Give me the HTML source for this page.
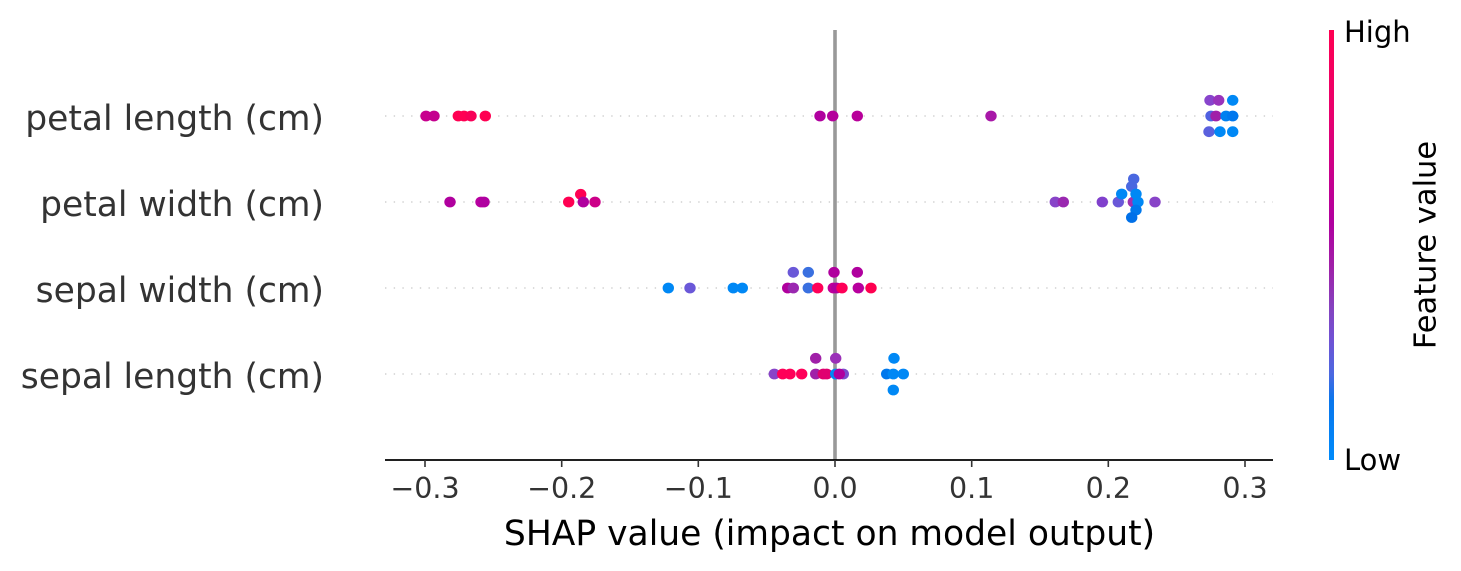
<!DOCTYPE html>
<html>
<head>
<meta charset="utf-8">
<style>
html,body{margin:0;padding:0;background:#fff;}
svg{display:block;}
text{font-family:"DejaVu Sans","Liberation Sans",sans-serif;}
</style>
</head>
<body>
<svg width="1461" height="571" viewBox="0 0 1461 571" xmlns="http://www.w3.org/2000/svg">
<defs>
<linearGradient id="cb" x1="0" y1="0" x2="0" y2="1">
<stop offset="0" stop-color="#ff0052"/>
<stop offset="0.2" stop-color="#e8006e"/>
<stop offset="0.35" stop-color="#c4008f"/>
<stop offset="0.45" stop-color="#b0009f"/>
<stop offset="0.55" stop-color="#a020a8"/>
<stop offset="0.65" stop-color="#8444c0"/>
<stop offset="0.72" stop-color="#7052d4"/>
<stop offset="0.8" stop-color="#4c68e0"/>
<stop offset="0.86" stop-color="#0a76ec"/>
<stop offset="1" stop-color="#008bfb"/>
</linearGradient>
</defs>
<rect width="1461" height="571" fill="#fff"/>

<g stroke="#c8c8c8" stroke-width="1.2" stroke-dasharray="1.4 7.3">
<line x1="385" y1="116" x2="1273" y2="116"/>
<line x1="385" y1="202" x2="1273" y2="202"/>
<line x1="385" y1="288" x2="1273" y2="288"/>
<line x1="385" y1="374" x2="1273" y2="374"/>
</g>

<rect x="833.2" y="30" width="3.6" height="430" fill="#999999"/>

<g>
<ellipse cx="426" cy="116" rx="5.7" ry="5.4" fill="#c8008e"/>
<ellipse cx="434" cy="116" rx="5.7" ry="5.4" fill="#c4008f"/>
<ellipse cx="458.3" cy="116" rx="5.7" ry="5.4" fill="#ff0052"/>
<ellipse cx="464" cy="116" rx="5.7" ry="5.4" fill="#ff0054"/>
<ellipse cx="471" cy="116" rx="5.7" ry="5.4" fill="#f80058"/>
<ellipse cx="485.3" cy="116" rx="5.7" ry="5.4" fill="#ff0052"/>
<ellipse cx="820" cy="116" rx="5.7" ry="5.4" fill="#b0009f"/>
<ellipse cx="832.7" cy="116" rx="5.7" ry="5.4" fill="#b4009c"/>
<ellipse cx="857.3" cy="116" rx="5.7" ry="5.4" fill="#b8009a"/>
<ellipse cx="991" cy="116" rx="5.7" ry="5.4" fill="#a818a8"/>
<ellipse cx="1210" cy="100.3" rx="5.7" ry="5.4" fill="#8844cc"/>
<ellipse cx="1218.7" cy="100.3" rx="5.7" ry="5.4" fill="#9933bb"/>
<ellipse cx="1232.7" cy="100.3" rx="5.7" ry="5.4" fill="#0088f5"/>
<ellipse cx="1211" cy="116" rx="5.7" ry="5.4" fill="#5060e0"/>
<ellipse cx="1216" cy="116" rx="5.7" ry="5.4" fill="#a020a8"/>
<ellipse cx="1226" cy="116" rx="5.7" ry="5.4" fill="#0080f0"/>
<ellipse cx="1232.7" cy="116" rx="5.7" ry="5.4" fill="#0078ee"/>
<ellipse cx="1209" cy="131.7" rx="5.7" ry="5.4" fill="#5a60dd"/>
<ellipse cx="1220" cy="131.7" rx="5.7" ry="5.4" fill="#0088f5"/>
<ellipse cx="1232.7" cy="131.7" rx="5.7" ry="5.4" fill="#0088f5"/>

<ellipse cx="450" cy="202" rx="5.7" ry="5.4" fill="#b0009e"/>
<ellipse cx="481" cy="202" rx="5.7" ry="5.4" fill="#b800a0"/>
<ellipse cx="484" cy="202" rx="5.7" ry="5.4" fill="#b000a0"/>
<ellipse cx="568.7" cy="202" rx="5.7" ry="5.4" fill="#ff0052"/>
<ellipse cx="580.7" cy="194.3" rx="5.7" ry="5.4" fill="#ff0052"/>
<ellipse cx="583.3" cy="202" rx="5.7" ry="5.4" fill="#b0009e"/>
<ellipse cx="595" cy="202" rx="5.7" ry="5.4" fill="#cc0088"/>
<ellipse cx="1055.3" cy="202" rx="5.7" ry="5.4" fill="#8844c8"/>
<ellipse cx="1063.3" cy="202" rx="5.7" ry="5.4" fill="#9a28b0"/>
<ellipse cx="1102.3" cy="202" rx="5.7" ry="5.4" fill="#8040cc"/>
<ellipse cx="1118.3" cy="202" rx="5.7" ry="5.4" fill="#6a58d8"/>
<ellipse cx="1133.3" cy="202" rx="5.7" ry="5.4" fill="#a030b0"/>
<ellipse cx="1133.7" cy="179" rx="5.7" ry="5.4" fill="#4a68e0"/>
<ellipse cx="1131.7" cy="186.5" rx="5.7" ry="5.4" fill="#4a68e0"/>
<ellipse cx="1121.7" cy="194" rx="5.7" ry="5.4" fill="#0088f5"/>
<ellipse cx="1136" cy="194" rx="5.7" ry="5.4" fill="#0088f5"/>
<ellipse cx="1138" cy="202" rx="5.7" ry="5.4" fill="#0088f5"/>
<ellipse cx="1136" cy="210" rx="5.7" ry="5.4" fill="#0078ec"/>
<ellipse cx="1131.7" cy="217.5" rx="5.7" ry="5.4" fill="#0070e8"/>
<ellipse cx="1155" cy="202" rx="5.7" ry="5.4" fill="#8844c8"/>

<ellipse cx="668.3" cy="288" rx="5.7" ry="5.4" fill="#0088f5"/>
<ellipse cx="690" cy="288" rx="5.7" ry="5.4" fill="#6a58d8"/>
<ellipse cx="733.3" cy="288" rx="5.7" ry="5.4" fill="#0088f5"/>
<ellipse cx="742.3" cy="288" rx="5.7" ry="5.4" fill="#0088f5"/>
<ellipse cx="787.7" cy="288" rx="5.7" ry="5.4" fill="#b0009e"/>
<ellipse cx="793.3" cy="288" rx="5.7" ry="5.4" fill="#9a28b0"/>
<ellipse cx="808.3" cy="288" rx="5.7" ry="5.4" fill="#3a70e0"/>
<ellipse cx="817.7" cy="288" rx="5.7" ry="5.4" fill="#ff0058"/>
<ellipse cx="833.3" cy="288" rx="5.7" ry="5.4" fill="#c0009a"/>
<ellipse cx="836.7" cy="288" rx="5.7" ry="5.4" fill="#b0009e"/>
<ellipse cx="842" cy="288" rx="5.7" ry="5.4" fill="#ff0058"/>
<ellipse cx="858.3" cy="288" rx="5.7" ry="5.4" fill="#b8009e"/>
<ellipse cx="871" cy="288" rx="5.7" ry="5.4" fill="#ff0050"/>
<ellipse cx="793.3" cy="272.3" rx="5.7" ry="5.4" fill="#6a58d8"/>
<ellipse cx="808.3" cy="272.3" rx="5.7" ry="5.4" fill="#3a70e0"/>
<ellipse cx="834" cy="272.3" rx="5.7" ry="5.4" fill="#b0009e"/>
<ellipse cx="857.3" cy="272.3" rx="5.7" ry="5.4" fill="#b0009e"/>

<ellipse cx="774.3" cy="374" rx="5.7" ry="5.4" fill="#8844c8"/>
<ellipse cx="782.7" cy="374" rx="5.7" ry="5.4" fill="#ff0058"/>
<ellipse cx="790" cy="374" rx="5.7" ry="5.4" fill="#ff0058"/>
<ellipse cx="801.7" cy="374" rx="5.7" ry="5.4" fill="#ff0058"/>
<ellipse cx="815.7" cy="374" rx="5.7" ry="5.4" fill="#a020a8"/>
<ellipse cx="823.3" cy="374" rx="5.7" ry="5.4" fill="#e0006e"/>
<ellipse cx="826.7" cy="374" rx="5.7" ry="5.4" fill="#e00070"/>
<ellipse cx="843.3" cy="374" rx="5.7" ry="5.4" fill="#7a4ccc"/>
<ellipse cx="835.7" cy="374" rx="5.7" ry="5.4" fill="#0088f5"/>
<ellipse cx="839.3" cy="374" rx="5.7" ry="5.4" fill="#b0009e"/>
<ellipse cx="886.7" cy="374" rx="5.7" ry="5.4" fill="#0078ec"/>
<ellipse cx="893.3" cy="374" rx="5.7" ry="5.4" fill="#0088f5"/>
<ellipse cx="903.3" cy="374" rx="5.7" ry="5.4" fill="#0088f5"/>
<ellipse cx="815.7" cy="358.3" rx="5.7" ry="5.4" fill="#a020a8"/>
<ellipse cx="835.7" cy="358.3" rx="5.7" ry="5.4" fill="#9a30b8"/>
<ellipse cx="894" cy="358.3" rx="5.7" ry="5.4" fill="#0088f5"/>
<ellipse cx="893.3" cy="390" rx="5.7" ry="5.4" fill="#0088f5"/>
</g>

<line x1="385" y1="460" x2="1273" y2="460" stroke="#000" stroke-width="1.8"/>
<g stroke="#333" stroke-width="1.6">
<line x1="425" y1="460" x2="425" y2="467"/>
<line x1="561.7" y1="460" x2="561.7" y2="467"/>
<line x1="698.3" y1="460" x2="698.3" y2="467"/>
<line x1="835" y1="460" x2="835" y2="467"/>
<line x1="971.7" y1="460" x2="971.7" y2="467"/>
<line x1="1108.3" y1="460" x2="1108.3" y2="467"/>
<line x1="1245" y1="460" x2="1245" y2="467"/>
</g>
<g fill="#333" font-size="28.5" text-anchor="middle">
<text x="425" y="498">−0.3</text>
<text x="561.7" y="498">−0.2</text>
<text x="698.3" y="498">−0.1</text>
<text x="835" y="498">0.0</text>
<text x="971.7" y="498">0.1</text>
<text x="1108.3" y="498">0.2</text>
<text x="1245" y="498">0.3</text>
</g>
<text fill="#000" font-size="34.5" text-anchor="middle" x="829.5" y="545">SHAP value (impact on model output)</text>

<g fill="#333" font-size="34.5" text-anchor="end">
<text x="324" y="130">petal length (cm)</text>
<text x="324" y="216">petal width (cm)</text>
<text x="324" y="302">sepal width (cm)</text>
<text x="324" y="388">sepal length (cm)</text>
</g>

<rect x="1329" y="30" width="5" height="430" fill="url(#cb)"/>
<text fill="#000" font-size="29" x="1344" y="42">High</text>
<text fill="#000" font-size="29" x="1344" y="470">Low</text>
<text fill="#000" font-size="30.5" text-anchor="middle" transform="translate(1435.5,245) rotate(-90)">Feature value</text>
</svg>
</body>
</html>
